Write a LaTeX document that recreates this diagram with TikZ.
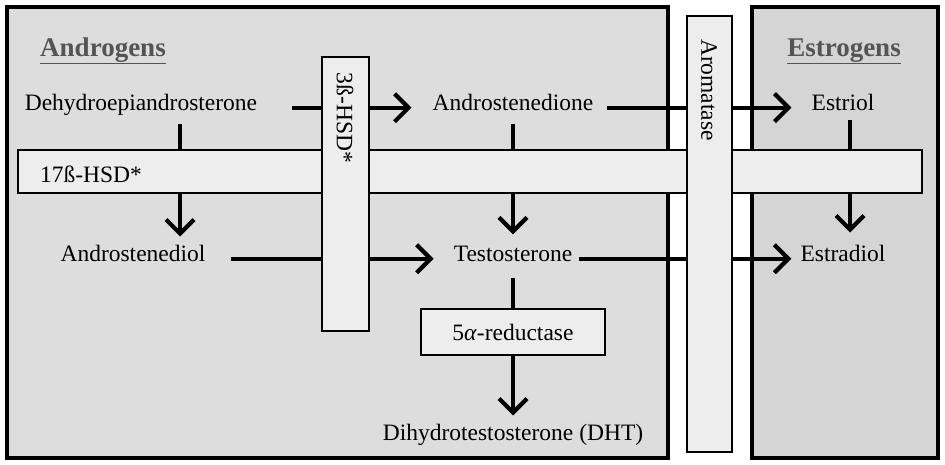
\documentclass[tikz,border=0pt]{standalone}
\usepackage{fontspec}
\setmainfont{Liberation Serif}
\usetikzlibrary{arrows.meta}
\definecolor{androfill}{gray}{0.865}
\definecolor{estrofill}{gray}{0.835}
\definecolor{enzfill}{gray}{0.93}
\definecolor{titlegray}{gray}{0.33}

\begin{document}
\begin{tikzpicture}[x=1pt,y=-1pt,
    every node/.style={font=\fontsize{23.5}{28}\selectfont, inner sep=0pt},
    arr/.style={line width=4.2pt, -{Straight Barb[length=14pt,width=28pt]}},
    group/.style={draw, line width=4pt},
    enzyme/.style={draw, line width=1.2pt, fill=enzfill},
    title/.style={font=\fontsize{27}{32}\selectfont\bfseries, text=titlegray}]

    \useasboundingbox[fill=white] (0,0) rectangle (945,464);

    \draw[group, fill=androfill] (7,7) rectangle (668,458);
    \draw[group, fill=estrofill] (752,7) rectangle (938,458);

    \node[title, anchor=base] (andro) at (103,56) {\underline{Androgens}};
    \node[title, anchor=base] (estro) at (844,56) {\underline{Estrogens}};

    \node[anchor=base] (dhea) at (141,110) {Dehydroepiandrosterone};
    \node[anchor=base] (adione) at (513,110) {Androstenedione};
    \node[anchor=base] (estriol) at (843,110) {Estriol};
    \node[anchor=base] (adiol) at (133,261) {Androstenediol};
    \node[anchor=base] (testo) at (513,261) {Testosterone};
    \node[anchor=base] (estradiol) at (843,261) {Estradiol};
    \node[anchor=base] (dht) at (513,440) {Dihydrotestosterone (DHT)};

    \draw[arr, shorten <=35pt, shorten >=21pt] (dhea.mid east) -- (adione.mid west);
    \draw[arr, shorten <=14pt, shorten >=20pt] (adione.mid east) -- (estriol.mid west);
    \draw[arr, shorten <=25pt, shorten >=20pt] (adiol.mid east) -- (testo.mid west);
    \draw[arr, shorten <=7pt, shorten >=9pt] (testo.mid east) -- (estradiol.mid west);

    \draw[arr, shorten <=9pt, shorten >=8pt] ([xshift=39pt]dhea.south) -- ([xshift=47pt]adiol.north);
    \draw[arr, shorten <=14pt, shorten >=11pt] (adione.south) -- (testo.north);
    \draw[arr, shorten <=10pt, shorten >=12pt] ([xshift=7pt]estriol.south) -- ([xshift=7pt]estradiol.north);
    \draw[arr, shorten <=17pt, shorten >=8pt] (testo.south) -- (dht.north);

    % enzymes on top
    \node[enzyme, minimum width=904pt, minimum height=43pt] (hsd17) at (470,171.5) {};
    \node[anchor=base] (hsd17txt) at (91,182) {17ß-HSD*};
    \node[enzyme, minimum width=47pt, minimum height=274pt] (hsd3) at (345.5,194) {};
    \node[rotate=-90] (hsd3txt) at (345,118) {3ß-HSD*};
    \node[enzyme, minimum width=45pt, minimum height=436pt] (aro) at (709.5,234) {};
    \node[rotate=-90] (arotxt) at (709,90) {Aromatase};
    \node[enzyme, minimum width=184pt, minimum height=46pt] (red5) at (513,332) {5\textit{α}-reductase};
\end{tikzpicture}
\end{document}
